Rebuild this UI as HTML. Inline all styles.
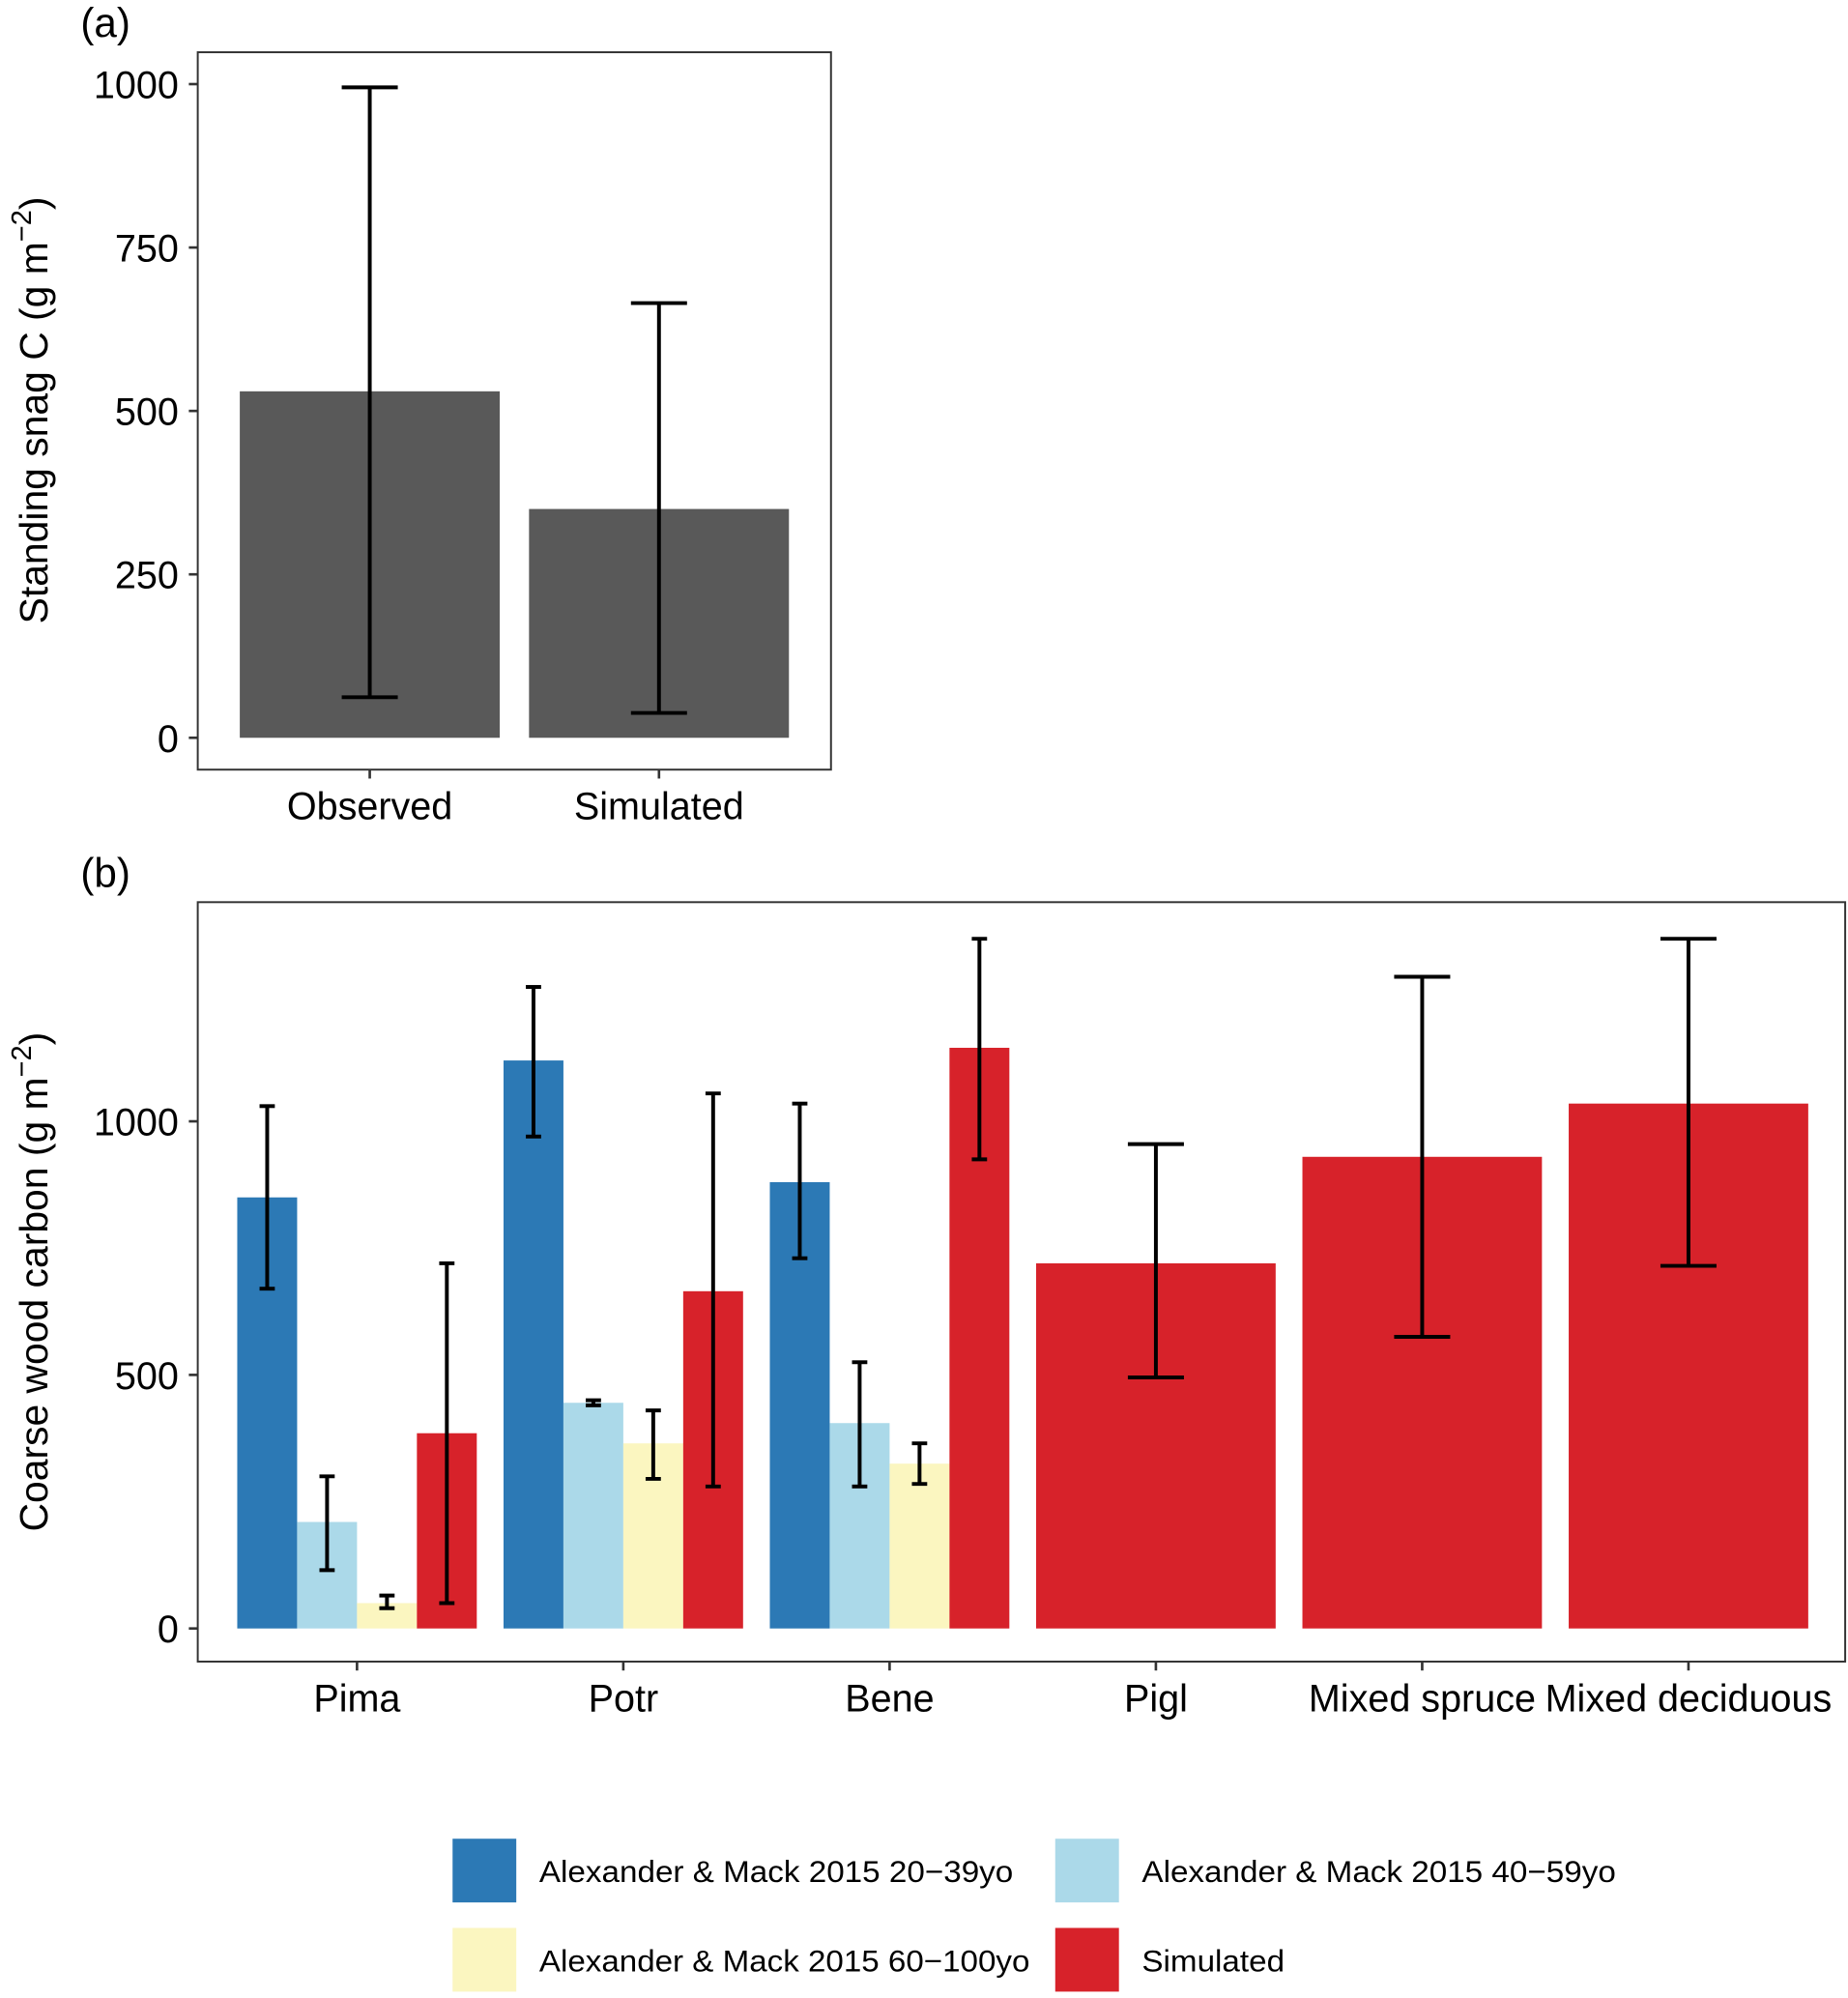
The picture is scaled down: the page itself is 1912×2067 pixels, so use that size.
<!DOCTYPE html>
<html><head><meta charset="utf-8"><style>html,body{margin:0;padding:0;background:#fff}svg{display:block}text{font-family:"Liberation Sans",Arial,sans-serif;fill:#000}</style></head>
<body>
<svg id="chart" width="1912" height="2067" viewBox="0 0 1450 1568" xmlns="http://www.w3.org/2000/svg">
<rect width="1450" height="1568" fill="#fff"/>
<g id="pa"></g>
<g id="pb"></g>
<g id="legend"></g>
</svg>
<script>
const aCats=["Observed","Simulated"];
const aVals=[530,350];
const aLo=[62,38];
const aHi=[995,665];
const aTicks=[0,250,500,750,1000];

const bCats=["Pima","Potr","Bene","Pigl","Mixed spruce","Mixed deciduous"];
const bSeries=["Alexander & Mack 2015 20\u221239yo","Alexander & Mack 2015 40\u221259yo","Alexander & Mack 2015 60\u2212100yo","Simulated"];
const bColors=["#2c79b5","#abd9e9","#fbf6c0","#d7222a"];
const bVals=[[850,210,50,385],[1120,445,365,665],[880,405,325,1145],[null,null,null,720],[null,null,null,930],[null,null,null,1035]];
const bLo=[[670,115,40,50],[970,440,295,280],[730,280,285,925],[null,null,null,495],[null,null,null,575],[null,null,null,715]];
const bHi=[[1030,300,65,720],[1265,450,430,1055],[1035,525,365,1360],[null,null,null,955],[null,null,null,1285],[null,null,null,1360]];
const bTicks=[0,500,1000];

const NS="http://www.w3.org/2000/svg";
function mk(p,t,a,txt){const e=document.createElementNS(NS,t);for(const k in a)e.setAttribute(k,a[k]);if(txt!==undefined)e.textContent=txt;p.appendChild(e);return e;}
const FS=30;

const pa=document.getElementById('pa');
const ya=v=>579-v*0.513;
const xa=i=>290+i*227;
aCats.forEach((c,i)=>{
  const r=mk(pa,'rect',{x:xa(i)-102,y:ya(aVals[i]),width:204,height:ya(0)-ya(aVals[i]),fill:'#595959'});
  
  
  const g=mk(pa,'g',{stroke:'#000','stroke-width':3});
  
  
  mk(g,'line',{x1:xa(i),x2:xa(i),y1:ya(aLo[i]),y2:ya(aHi[i])});
  mk(g,'line',{x1:xa(i)-22,x2:xa(i)+22,y1:ya(aLo[i]),y2:ya(aLo[i])});
  mk(g,'line',{x1:xa(i)-22,x2:xa(i)+22,y1:ya(aHi[i]),y2:ya(aHi[i])});
  mk(pa,'line',{x1:xa(i),x2:xa(i),y1:604,y2:611,stroke:'#333','stroke-width':2});
  const t=mk(pa,'text',{x:xa(i),y:643,'font-size':FS,'text-anchor':'middle'},c);
  
  
});
aTicks.forEach(v=>{
  mk(pa,'line',{x1:148,x2:155,y1:ya(v),y2:ya(v),stroke:'#333','stroke-width':2});
  const t=mk(pa,'text',{x:140,y:ya(v)+11,'font-size':FS,'text-anchor':'end'},v);
  
  
});
mk(pa,'rect',{x:155,y:41,width:497,height:563,fill:'none',stroke:'#333','stroke-width':1.5});
let t=mk(pa,'text',{x:63,y:29,'font-size':32},'(a)');

t=mk(pa,'text',{transform:'translate(37,322) rotate(-90)','font-size':31,'text-anchor':'middle'});

t.innerHTML='Standing snag C (g m<tspan dy="-13" font-size="22">\u22122</tspan><tspan dy="13">)</tspan>';

const pb=document.getElementById('pb');
const yb=v=>1278-v*0.398;
const xb=i=>280+i*209;
bCats.forEach((c,i)=>{
  const vals=bVals[i];
  const present=vals.map((v,j)=>v===null?-1:j).filter(j=>j>=0);
  const n=present.length, w=188/n;
  present.forEach((j,k)=>{
    const x0=xb(i)-94+k*w, cx=x0+w/2, v=vals[j];
    const r=mk(pb,'rect',{x:x0,y:yb(v),width:w,height:yb(0)-yb(v),fill:bColors[j]});
    
    
    const cw=n===1?22:6;
    const g=mk(pb,'g',{stroke:'#000','stroke-width':3});
    
    
    mk(g,'line',{x1:cx,x2:cx,y1:yb(bLo[i][j]),y2:yb(bHi[i][j])});
    mk(g,'line',{x1:cx-cw,x2:cx+cw,y1:yb(bLo[i][j]),y2:yb(bLo[i][j])});
    mk(g,'line',{x1:cx-cw,x2:cx+cw,y1:yb(bHi[i][j]),y2:yb(bHi[i][j])});
  });
  mk(pb,'line',{x1:xb(i),x2:xb(i),y1:1304,y2:1311,stroke:'#333','stroke-width':2});
  const tx=mk(pb,'text',{x:xb(i),y:1343,'font-size':FS,'text-anchor':'middle'},c);
  
  
});
bTicks.forEach(v=>{
  mk(pb,'line',{x1:148,x2:155,y1:yb(v),y2:yb(v),stroke:'#333','stroke-width':2});
  const tt=mk(pb,'text',{x:140,y:yb(v)+11,'font-size':FS,'text-anchor':'end'},v);
  
  
});
mk(pb,'rect',{x:155,y:708,width:1293,height:596,fill:'none',stroke:'#333','stroke-width':1.5});
t=mk(pb,'text',{x:63,y:696,'font-size':32},'(b)');

t=mk(pb,'text',{transform:'translate(37,1006) rotate(-90)','font-size':31,'text-anchor':'middle'});

t.innerHTML='Coarse wood carbon (g m<tspan dy="-13" font-size="22">\u22122</tspan><tspan dy="13">)</tspan>';

const lg=document.getElementById('legend');
const lpos=[[355,1443],[828,1443],[355,1513],[828,1513]];
const lwid=[372,372,385,112];
bSeries.forEach((s,j)=>{
  const [x,y]=lpos[j];
  const r=mk(lg,'rect',{x:x,y:y,width:50,height:50,fill:bColors[j]});
  
  
  const tx=mk(lg,'text',{x:x+68,y:y+34,'font-size':24,textLength:lwid[j],lengthAdjust:'spacingAndGlyphs'},s);
  
  
});
</script>
</body></html>
